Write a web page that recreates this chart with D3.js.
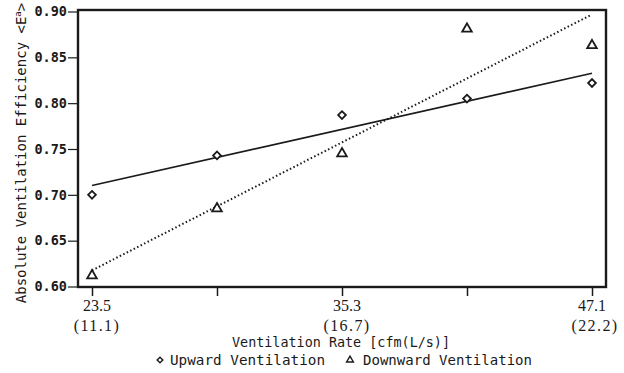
<!DOCTYPE html>
<html>
<head>
<meta charset="utf-8">
<script src="https://cdn.jsdelivr.net/npm/d3@7/dist/d3.min.js"></script>
<style>
  html, body { margin: 0; padding: 0; background: #fff; }
  svg { display: block; }
</style>
</head>
<body>
<svg id="chart" width="624" height="373"></svg>
<script>
// Ventilation rates (cfm) and the matching L/s values
const ratesCfm = [23.5, 29.4, 35.3, 41.2, 47.1];
const tickCfm = [23.5, 29.4, 35.3, 41.2, 47.1];
const labelCfm = ["23.5", "", "35.3", "", "47.1"];
const labelLs = ["(11.1)", "", "(16.7)", "", "(22.2)"];

// Absolute ventilation efficiency for each supply mode
const upward = [0.700, 0.743, 0.787, 0.805, 0.822];
const downward = [0.612, 0.685, 0.745, 0.881, 0.863];

const yTicks = [0.60, 0.65, 0.70, 0.75, 0.80, 0.85, 0.90];
const yTickLabels = ["0.60", "0.65", "0.70", "0.75", "0.80", "0.85", "0.90"];

const svg = d3.select("#chart");
const frame = { left: 78, right: 606, top: 10, bottom: 287 };

const x = d3.scaleLinear().domain([23.5, 47.1]).range([92, 592]);
const y = d3.scaleLinear().domain([0.60, 0.90]).range([286.5, 11.5]);

const ink = "#1a1a1a";
const mono = "'DejaVu Sans Mono', 'Liberation Mono', monospace";
const serif = "'Liberation Serif', 'DejaVu Serif', serif";

// Least-squares line through a series
function fit(xs, ys) {
  const mx = d3.mean(xs), my = d3.mean(ys);
  const b = d3.sum(xs, (v, i) => (v - mx) * (ys[i] - my)) / d3.sum(xs, v => (v - mx) ** 2);
  const a = my - b * mx;
  const x0 = xs[0], x1 = xs[xs.length - 1];
  return [[x0, a + b * x0], [x1, a + b * x1]];
}

const line = d3.line().x(d => x(d[0])).y(d => y(d[1]));

// Plot frame
svg.append("rect")
  .attr("x", frame.left).attr("y", frame.top)
  .attr("width", frame.right - frame.left).attr("height", frame.bottom - frame.top)
  .attr("fill", "none").attr("stroke", ink).attr("stroke-width", 2.4);

// Y axis ticks and labels
const yAxis = d3.axisLeft(y).tickValues(yTicks)
  .tickFormat((d, i) => yTickLabels[i]).tickSize(10).tickPadding(1);
const gy = svg.append("g").attr("transform", `translate(${frame.left},0)`).call(yAxis);
gy.select(".domain").remove();
gy.selectAll(".tick line").attr("stroke", ink).attr("stroke-width", 1.2);
gy.selectAll(".tick text")
  .attr("font-family", mono).attr("font-size", 13.5).attr("font-weight", "bold")
  .attr("fill", ink);

// X axis ticks
const xAxis = d3.axisBottom(x).tickValues(tickCfm).tickFormat("").tickSize(9);
const gx = svg.append("g").attr("transform", `translate(0,${frame.bottom})`).call(xAxis);
gx.select(".domain").remove();
gx.selectAll(".tick line").attr("stroke", ink).attr("stroke-width", 1.5);

// Two-line x tick labels: cfm above, L/s below
const xl = svg.append("g");
tickCfm.forEach((v, i) => {
  if (!labelCfm[i]) return;
  const cx = x(v) + (i === 4 ? 0 : 5);
  xl.append("text").attr("x", cx).attr("y", 311)
    .attr("text-anchor", "middle").attr("font-family", serif)
    .attr("font-size", 16).attr("fill", ink).text(labelCfm[i]);
  xl.append("text").attr("x", cx + (i === 4 ? 3 : 0)).attr("y", 331)
    .attr("text-anchor", "middle").attr("font-family", serif)
    .attr("font-size", 16).attr("letter-spacing", 1.4).attr("fill", ink).text(labelLs[i]);
});

// Axis titles
svg.append("text").attr("x", 232).attr("y", 347)
  .attr("font-family", mono).attr("font-size", 14.5).attr("fill", ink)
  .attr("textLength", 218).attr("lengthAdjust", "spacingAndGlyphs")
  .text("Ventilation Rate [cfm(L/s)]");

const yt = svg.append("text")
  .attr("transform", "translate(26,153) rotate(-90)")
  .attr("text-anchor", "middle").attr("font-family", mono)
  .attr("font-size", 14).attr("fill", ink);
yt.append("tspan").text("Absolute Ventilation Efficiency <E");
yt.append("tspan").attr("font-size", 9).attr("dy", -5).text("a");
yt.append("tspan").attr("dy", 5).text(">");

// Regression lines
svg.append("path").datum(fit(ratesCfm, upward)).attr("d", line)
  .attr("fill", "none").attr("stroke", ink).attr("stroke-width", 1.6);
svg.append("path").datum(fit(ratesCfm, downward)).attr("d", line)
  .attr("fill", "none").attr("stroke", ink).attr("stroke-width", 2)
  .attr("stroke-dasharray", "1.5,2.4");

// Markers
const diamond = d3.symbol().type(d3.symbolSquare).size(30);
svg.append("g").selectAll("path").data(upward).join("path")
  .attr("d", diamond)
  .attr("transform", (d, i) => `translate(${x(ratesCfm[i])},${y(d)}) rotate(45)`)
  .attr("fill", "#fff").attr("stroke", ink).attr("stroke-width", 1.8);

const tri = d3.symbol().type(d3.symbolTriangle).size(40);
svg.append("g").selectAll("path").data(downward).join("path")
  .attr("d", tri)
  .attr("transform", (d, i) => `translate(${x(ratesCfm[i])},${y(d)})`)
  .attr("fill", "#fff").attr("stroke", ink).attr("stroke-width", 1.8);

// Legend
const lg = svg.append("g");
lg.append("path").attr("d", d3.symbol().type(d3.symbolSquare).size(16))
  .attr("transform", "translate(160,360) rotate(45)")
  .attr("fill", "#fff").attr("stroke", ink).attr("stroke-width", 1.4);
lg.append("text").attr("x", 170).attr("y", 365)
  .attr("font-family", mono).attr("font-size", 14.5).attr("fill", ink)
  .attr("textLength", 155).attr("lengthAdjust", "spacingAndGlyphs")
  .text("Upward Ventilation");
lg.append("path").attr("d", d3.symbol().type(d3.symbolTriangle).size(20))
  .attr("transform", "translate(350,360)")
  .attr("fill", "#fff").attr("stroke", ink).attr("stroke-width", 1.4);
lg.append("text").attr("x", 363).attr("y", 365)
  .attr("font-family", mono).attr("font-size", 14.5).attr("fill", ink)
  .attr("textLength", 169).attr("lengthAdjust", "spacingAndGlyphs")
  .text("Downward Ventilation");
</script>
</body>
</html>
